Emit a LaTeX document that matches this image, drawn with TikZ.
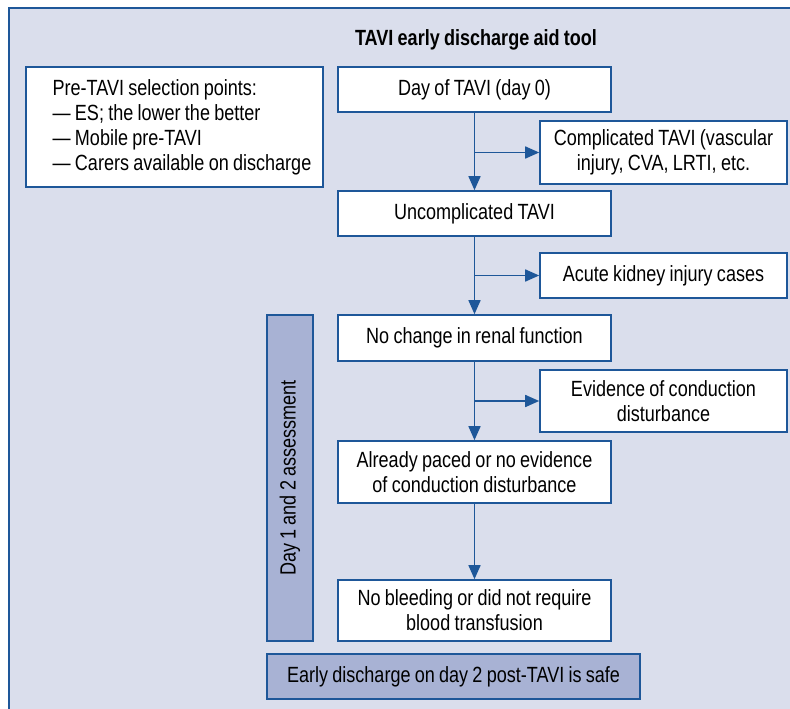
\documentclass[tikz,border=0pt]{standalone}
\usepackage{fontspec}
\setmainfont[FakeStretch=0.82,WordSpace=0.85]{Liberation Sans}
\usetikzlibrary{arrows.meta}
\definecolor{panelfill}{RGB}{218,222,236}
\definecolor{linecol}{RGB}{30,87,153}
\definecolor{darkfill}{RGB}{168,178,212}
\tikzset{
  box/.style={draw=linecol, line width=1.6pt, fill=white, inner sep=0pt, align=center, font=\fontsize{22}{25}\selectfont},
  darkbox/.style={box, fill=darkfill},
  arr/.style={draw=linecol, line width=1.6pt, -{Triangle[length=14pt,width=12pt]}},
}
\begin{document}
\begin{tikzpicture}[x=1pt,y=-1pt]
\useasboundingbox (0,0) rectangle (790,709);
\path[fill=white] (0,0) rectangle (790,709);
\draw[draw=linecol, line width=1.4pt, fill=panelfill] (9,8) rectangle (810,730);
\node[font=\bfseries\fontsize{22}{25}\selectfont] (title) at (476,40) {TAVI early discharge aid tool};
\node[box, minimum width=297pt, minimum height=120pt, align=left] (pre) at (174.5,127)
  {\hspace*{15pt}Pre-TAVI selection points:\\\hspace*{15pt}— ES; the lower the better\\\hspace*{15pt}— Mobile pre-TAVI\\\hspace*{15pt}— Carers available on discharge};
\node[box, minimum width=273pt, minimum height=45pt] (day0) at (474.5,89.5) {Day of TAVI (day 0)};
\node[box, minimum width=247pt, minimum height=63pt] (comp) at (663.5,152.5) {Complicated TAVI (vascular\\injury, CVA, LRTI, etc.};
\node[box, minimum width=273pt, minimum height=45pt] (uncomp) at (474.5,213.5) {Uncomplicated TAVI};
\node[box, minimum width=247pt, minimum height=45pt] (aki) at (663.5,275.5) {Acute kidney injury cases};
\node[box, minimum width=273pt, minimum height=46pt] (renal) at (474.5,338) {No change in renal function};
\node[box, minimum width=247pt, minimum height=62pt] (evid) at (663.5,401) {Evidence of conduction\\disturbance};
\node[box, minimum width=273pt, minimum height=62pt] (paced) at (474.5,472) {Already paced or no evidence\\of conduction disturbance};
\node[box, minimum width=273pt, minimum height=61pt] (bleed) at (474.5,610.5) {No bleeding or did not require\\blood transfusion};
\node[darkbox, minimum width=326pt, minimum height=46pt, rotate=90] (day12) at (290,478) {Day 1 and 2 assessment};
\node[darkbox, minimum width=373pt, minimum height=45pt] (early) at (453.5,676.5) {Early discharge on day 2 post-TAVI is safe};
\draw[arr] (day0.south) -- (uncomp.north);
\draw[arr] (day0.south |- comp.west) -- (comp.west);
\draw[arr] (uncomp.south) -- (renal.north);
\draw[arr] (uncomp.south |- aki.west) -- (aki.west);
\draw[arr] (renal.south) -- (paced.north);
\draw[arr] (renal.south |- evid.west) -- (evid.west);
\draw[arr] (paced.south) -- (bleed.north);
\end{tikzpicture}
\end{document}
